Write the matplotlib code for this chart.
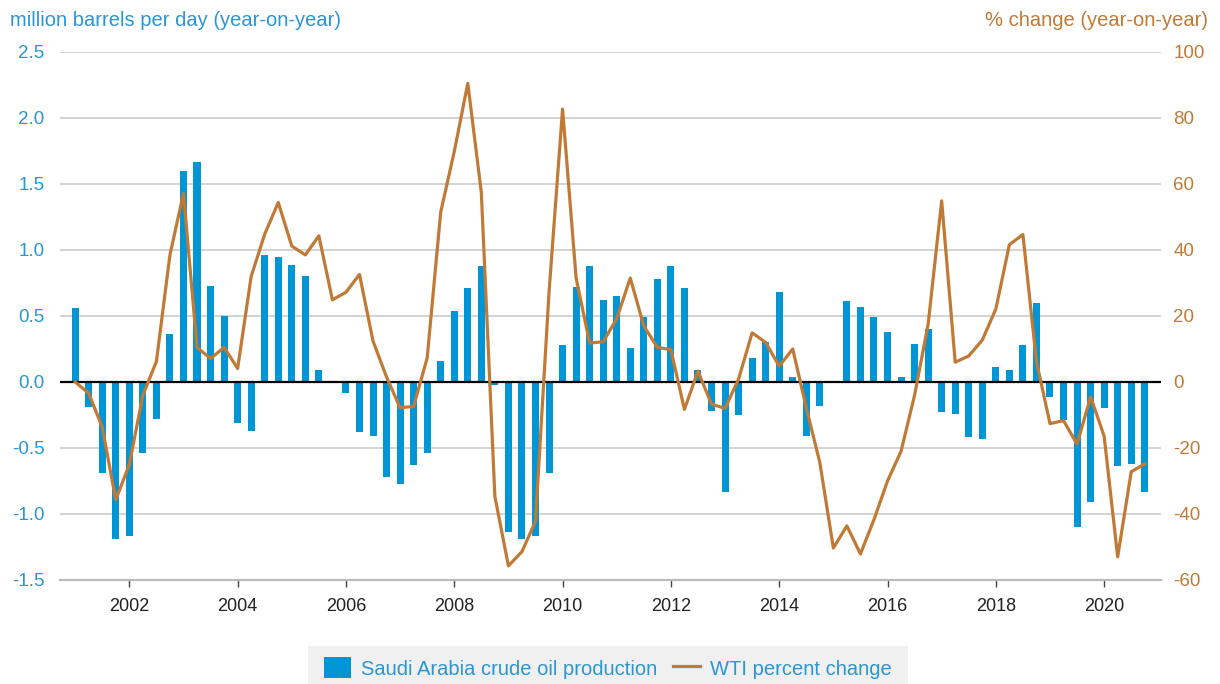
import matplotlib
matplotlib.use("Agg")
import matplotlib.pyplot as plt
from matplotlib.patches import Rectangle
import numpy as np

plt.rcParams['font.family'] = ['Liberation Sans', 'DejaVu Sans']
plt.rcParams['axes.unicode_minus'] = False

BLUE = '#0095d5'
BROWN = '#c17a35'
TEXT_BLUE = '#2a96d4'

# quarterly, 2001 Q1 .. 2020 Q4
quarters = 2001 + np.arange(80) * 0.25

# Saudi Arabia crude oil production, million b/d, year-on-year change
saudi_prod = [
    0.56, -0.19, -0.69, -1.19,
    -1.17, -0.54, -0.28, 0.36,
    1.60, 1.67, 0.73, 0.50,
    -0.31, -0.37, 0.96, 0.95,
    0.89, 0.80, 0.09, 0.00,
    -0.08, -0.38, -0.41, -0.72,
    -0.77, -0.63, -0.54, 0.16,
    0.54, 0.71, 0.88, -0.02,
    -1.14, -1.19, -1.17, -0.69,
    0.28, 0.72, 0.88, 0.62,
    0.65, 0.26, 0.49, 0.78,
    0.88, 0.71, 0.09, -0.22,
    -0.83, -0.25, 0.18, 0.30,
    0.68, 0.04, -0.41, -0.18,
    -0.01, 0.61, 0.57, 0.49,
    0.38, 0.04, 0.29, 0.40,
    -0.23, -0.24, -0.42, -0.43,
    0.11, 0.09, 0.28, 0.60,
    -0.11, -0.29, -1.10, -0.91,
    -0.20, -0.64, -0.62, -0.83,
]

# WTI price, percent change year-on-year
wti_change = [
    0.0, -3.4, -13.7, -35.7,
    -25.0, -4.0, 6.2, 38.5,
    57.2, 10.5, 7.1, 10.5,
    4.1, 32.0, 44.8, 54.4,
    41.2, 38.5, 44.3, 24.9,
    27.2, 32.6, 12.4, 1.5,
    -7.8, -7.4, 7.3, 51.5,
    69.8, 90.5, 57.4, -34.7,
    -55.7, -51.4, -42.2, 27.2,
    82.7, 31.5, 11.8, 12.2,
    19.2, 31.5, 17.0, 10.5,
    9.8, -8.3, 3.3, -6.7,
    -8.0, 0.9, 14.9, 12.0,
    4.8, 10.0, -7.8, -24.4,
    -50.3, -43.6, -52.1, -41.7,
    -30.0, -21.0, -4.0, 17.5,
    54.9, 6.0, 7.9, 12.7,
    22.1, 41.6, 44.7, 6.2,
    -12.6, -11.7, -18.8, -4.5,
    -16.4, -53.0, -27.2, -24.8,
]

left_ticks = [2.5, 2.0, 1.5, 1.0, 0.5, 0.0, -0.5, -1.0, -1.5]
right_ticks = [100, 80, 60, 40, 20, 0, -20, -40, -60]
year_ticks = list(range(2002, 2021, 2))

fig = plt.figure(figsize=(12.2, 6.84), dpi=100)
ax = fig.add_axes([60 / 1220, 104 / 684, 1101 / 1220, 528 / 684])
ax2 = ax.twinx()

ax.bar(quarters, saudi_prod, width=0.13, color=BLUE, zorder=2,
       label='Saudi Arabia crude oil production')
ax.axhline(0, color='black', lw=1.6, zorder=3)
ax2.plot(quarters, wti_change, color=BROWN, lw=2.3, zorder=4,
         label='WTI percent change')

ax.set_xlim(2000.72, 2021.05)
ax.set_ylim(-1.5, 2.5)
ax2.set_ylim(-60, 100)

ax.set_yticks(left_ticks)
ax.set_yticklabels([f'{v:.1f}' for v in left_ticks])
ax2.set_yticks(right_ticks)
ax.set_xticks(year_ticks)
ax.set_xticklabels([str(y) for y in year_ticks])

ax.grid(axis='y', color='#cccccc', lw=1.2, zorder=0)
ax.set_axisbelow(True)

for a in (ax, ax2):
    for side in ('top', 'left', 'right', 'bottom'):
        a.spines[side].set_visible(False)
ax.axhline(-1.5, color='#bbbbbb', lw=1.6, zorder=1, clip_on=False)

ax.tick_params(axis='y', length=0, pad=11, labelsize=13.5, labelcolor=TEXT_BLUE)
ax2.tick_params(axis='y', length=0, pad=9, labelsize=13.5, labelcolor=BROWN)
ax.tick_params(axis='x', length=5, width=1, color='#444444', pad=8,
               labelsize=13, labelcolor='#222222')

fig.text(10 / 1220, 1 - 21 / 684, 'million barrels per day (year-on-year)',
         color=TEXT_BLUE, fontsize=14.5, ha='left', va='center')
fig.text(1208 / 1220, 1 - 21 / 684, '% change (year-on-year)',
         color=BROWN, fontsize=14.5, ha='right', va='center')

# legend panel
fig.patches.append(Rectangle((308 / 1220, 0), 600 / 1220, 38 / 684,
                             transform=fig.transFigure, facecolor='#f0f0f0',
                             edgecolor='none', zorder=0))
h1, l1 = ax.get_legend_handles_labels()
h2, l2 = ax2.get_legend_handles_labels()
fig.legend(h1 + h2, l1 + l2, loc='center', ncol=2, frameon=False,
           bbox_to_anchor=(608 / 1220, 16 / 684), fontsize=14.5,
           labelcolor=TEXT_BLUE, handlelength=1.35, handleheight=1.2,
           columnspacing=0.75, handletextpad=0.5, borderpad=0)

fig.savefig('out.png', dpi=100)
